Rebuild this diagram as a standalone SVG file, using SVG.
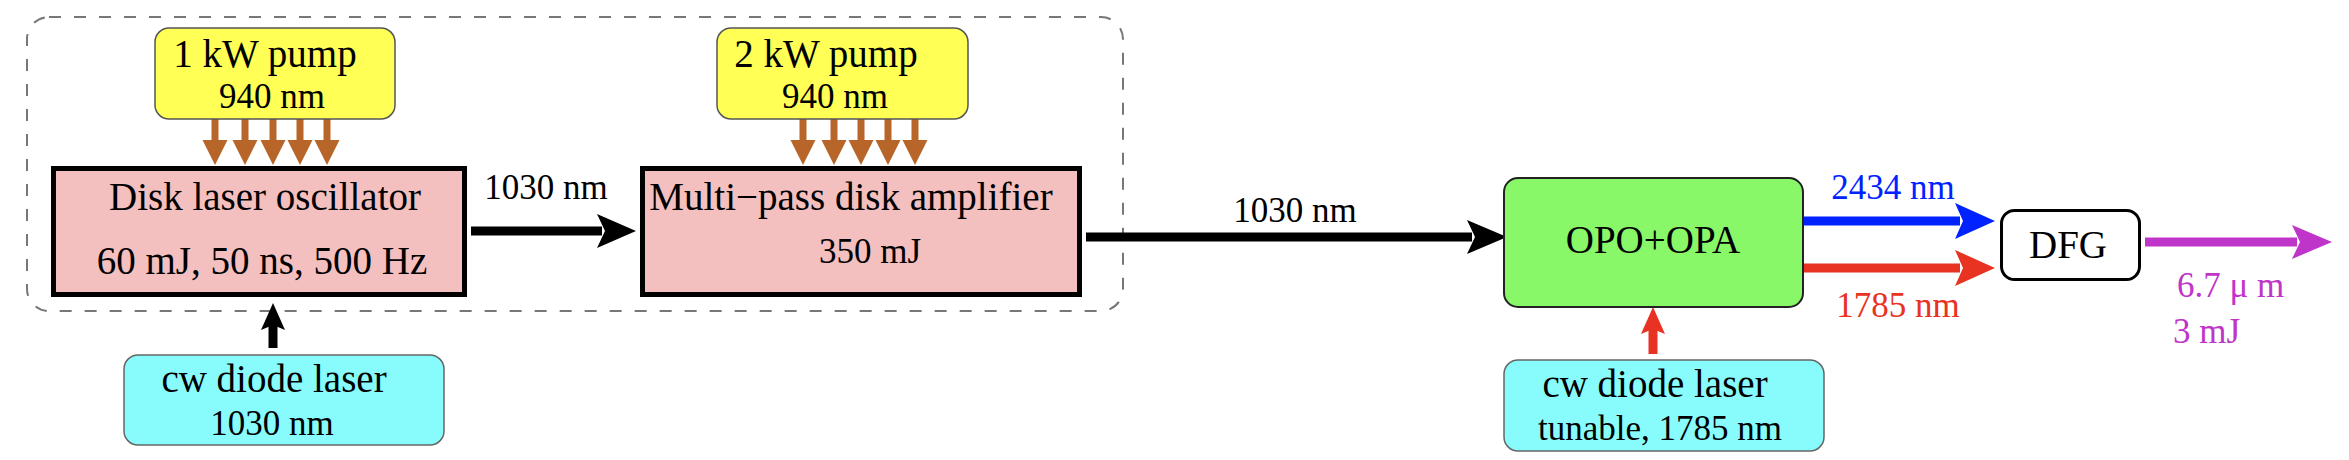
<svg xmlns="http://www.w3.org/2000/svg" width="2349" height="460" viewBox="0 0 2349 460">
<style>
text{font-family:"Liberation Serif","Times New Roman",serif;text-anchor:middle;fill:#000}
.big{font-size:39px}
.sm{font-size:35px}
.pump{fill:#ffff55;stroke:#555;stroke-width:1.5}
.disk{fill:#f4bfbf;stroke:#000;stroke-width:5}
.cyan{fill:#88fcfc;stroke:#666;stroke-width:1.5}
.shaft{stroke-width:9;fill:none}
.pshaft{stroke:#b8652a;stroke-width:7}
.phead{fill:#b8652a}
</style>
<rect id="group-box" x="27" y="17" width="1096" height="294" rx="22" fill="none" stroke="#777" stroke-width="2" stroke-dasharray="12 13"/>
<g id="connectors">
  <g id="pump1-arrows">
    <line class="pshaft" x1="215" y1="119" x2="215" y2="143"/><polygon class="phead" points="202.5,140 227.5,140 215,165"/>
    <line class="pshaft" x1="245" y1="119" x2="245" y2="143"/><polygon class="phead" points="232.5,140 257.5,140 245,165"/>
    <line class="pshaft" x1="273" y1="119" x2="273" y2="143"/><polygon class="phead" points="260.5,140 285.5,140 273,165"/>
    <line class="pshaft" x1="300" y1="119" x2="300" y2="143"/><polygon class="phead" points="287.5,140 312.5,140 300,165"/>
    <line class="pshaft" x1="327" y1="119" x2="327" y2="143"/><polygon class="phead" points="314.5,140 339.5,140 327,165"/>
  </g>
  <g id="pump2-arrows">
    <line class="pshaft" x1="803" y1="119" x2="803" y2="143"/><polygon class="phead" points="790.5,140 815.5,140 803,165"/>
    <line class="pshaft" x1="834" y1="119" x2="834" y2="143"/><polygon class="phead" points="821.5,140 846.5,140 834,165"/>
    <line class="pshaft" x1="861" y1="119" x2="861" y2="143"/><polygon class="phead" points="848.5,140 873.5,140 861,165"/>
    <line class="pshaft" x1="888" y1="119" x2="888" y2="143"/><polygon class="phead" points="875.5,140 900.5,140 888,165"/>
    <line class="pshaft" x1="915" y1="119" x2="915" y2="143"/><polygon class="phead" points="902.5,140 927.5,140 915,165"/>
  </g>
  <g id="seed1-arrow">
    <line class="shaft" stroke="#000" x1="273" y1="348" x2="273" y2="324"/>
    <polygon fill="#000" points="273,303 285,330 273,325 261,330"/>
  </g>
  <g id="osc-amp">
    <line class="shaft" stroke="#000" x1="471" y1="231" x2="602" y2="231"/>
    <polygon fill="#000" points="636,231 597,214 605,231 597,248"/>
  </g>
  <g id="amp-opo">
    <line class="shaft" stroke="#000" x1="1086" y1="237" x2="1472" y2="237"/>
    <polygon fill="#000" points="1507,237 1467,220 1475,237 1467,254"/>
  </g>
  <g id="seed2-arrow">
    <line class="shaft" stroke="#e83222" x1="1653" y1="354" x2="1653" y2="329"/>
    <polygon fill="#e83222" points="1653,307 1665,334 1653,329 1641,334"/>
  </g>
  <g id="idler">
    <line class="shaft" stroke="#0022ff" x1="1803" y1="221" x2="1960" y2="221"/>
    <polygon fill="#0022ff" points="1995,221 1955,203 1963,221 1955,239"/>
  </g>
  <g id="signal">
    <line class="shaft" stroke="#e83222" x1="1803" y1="268" x2="1960" y2="268"/>
    <polygon fill="#e83222" points="1995,268 1955,250 1963,268 1955,286"/>
  </g>
  <g id="output">
    <line class="shaft" stroke="#c035c9" x1="2145" y1="242" x2="2297" y2="242"/>
    <polygon fill="#c035c9" points="2332,242 2292,225 2300,242 2292,259"/>
  </g>
</g>
<text class="sm" x="546" y="199">1030 nm</text>
<text class="sm" x="1295" y="222">1030 nm</text>
<text class="sm" x="1893" y="199" style="fill:#0022ff">2434 nm</text>
<text class="sm" x="1898" y="317" style="fill:#e83222">1785 nm</text>
<text class="sm" x="2177" y="297" style="fill:#c035c9;text-anchor:start">6.7 μ m</text>
<text class="sm" x="2173" y="343" style="fill:#c035c9;text-anchor:start">3 mJ</text>
<g id="pump1">
  <rect class="pump" x="155" y="28" width="240" height="91" rx="14"/>
  <text class="big" x="265" y="67">1 kW pump</text>
  <text class="sm" x="272" y="108">940 nm</text>
</g>
<g id="pump2">
  <rect class="pump" x="717" y="28" width="251" height="91" rx="14"/>
  <text class="big" x="826" y="67">2 kW pump</text>
  <text class="sm" x="835" y="108">940 nm</text>
</g>
<g id="oscillator">
  <rect class="disk" x="53.5" y="168.5" width="411" height="126"/>
  <text class="big" x="265" y="210">Disk laser oscillator</text>
  <text class="big" x="262" y="274">60 mJ, 50 ns, 500 Hz</text>
</g>
<g id="amplifier">
  <rect class="disk" x="642.5" y="168.5" width="437" height="126"/>
  <text class="big" x="851" y="210">Multi−pass disk amplifier</text>
  <text class="sm" x="870" y="263">350 mJ</text>
</g>
<g id="seed1">
  <rect class="cyan" x="124" y="355" width="320" height="90" rx="14"/>
  <text class="big" x="274" y="392">cw diode laser</text>
  <text class="sm" x="272" y="435">1030 nm</text>
</g>
<g id="opo">
  <rect x="1504" y="178" width="299" height="129" rx="14" fill="#88f868" stroke="#222" stroke-width="2"/>
  <text class="big" x="1653" y="253">OPO+OPA</text>
</g>
<g id="seed2">
  <rect class="cyan" x="1504" y="360" width="320" height="91" rx="14"/>
  <text class="big" x="1655" y="397">cw diode laser</text>
  <text class="sm" x="1660" y="440">tunable, 1785 nm</text>
</g>
<g id="dfg">
  <rect x="2001.5" y="210.5" width="138" height="69" rx="13" fill="#fff" stroke="#000" stroke-width="3"/>
  <text class="big" x="2068" y="258">DFG</text>
</g>
</svg>
